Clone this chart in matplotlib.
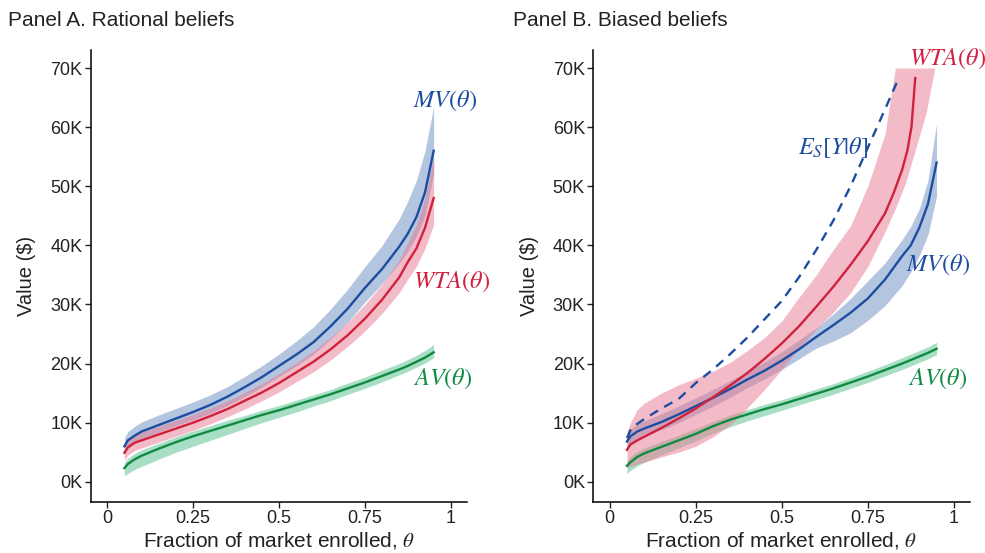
import numpy as np
import matplotlib.pyplot as plt

plt.rcParams['font.family'] = ['Liberation Sans', 'DejaVu Sans']
plt.rcParams['mathtext.fontset'] = 'stix'

# Values in thousands of dollars
theta = [0.05, 0.06, 0.08, 0.10, 0.15, 0.20, 0.25, 0.30, 0.35, 0.40, 0.45, 0.50,
         0.55, 0.60, 0.65, 0.70, 0.75, 0.80, 0.85, 0.875, 0.90, 0.925, 0.95]

# Panel A
a_mv = [6.0, 7.0, 7.8, 8.5, 9.6, 10.7, 11.8, 13.0, 14.4, 16.0, 17.7, 19.6,
        21.5, 23.6, 26.3, 29.3, 32.8, 36.0, 39.8, 42.0, 44.8, 49.0, 56.0]
a_mv_hi = [7.3, 8.5, 9.4, 10.1, 11.3, 12.4, 13.5, 14.7, 16.1, 17.8, 19.6, 21.6,
           23.8, 26.2, 29.2, 32.6, 36.4, 40.0, 44.5, 47.5, 51.0, 56.0, 63.5]
a_mv_lo = [4.8, 5.8, 6.6, 7.3, 8.4, 9.5, 10.5, 11.6, 12.9, 14.4, 16.0, 17.8,
           19.6, 21.6, 24.1, 27.0, 30.4, 33.5, 37.0, 39.0, 41.5, 45.0, 52.0]
a_wta = [4.9, 5.8, 6.6, 7.0, 8.0, 9.0, 10.0, 11.1, 12.3, 13.7, 15.1, 16.7,
         18.5, 20.3, 22.4, 24.8, 27.6, 30.8, 34.6, 37.2, 39.5, 43.0, 48.0]
a_wta_hi = [6.3, 7.2, 8.0, 8.4, 9.4, 10.4, 11.4, 12.5, 13.7, 15.1, 16.6, 18.3,
            20.1, 22.1, 24.4, 27.0, 30.0, 33.4, 37.5, 40.5, 43.5, 48.0, 55.0]
a_wta_lo = [3.6, 4.5, 5.3, 5.7, 6.7, 7.7, 8.7, 9.8, 11.0, 12.3, 13.7, 15.2,
            16.9, 18.6, 20.6, 22.9, 25.5, 28.5, 32.0, 34.3, 36.5, 39.5, 43.5]
a_av = [2.3, 3.0, 3.8, 4.4, 5.6, 6.7, 7.7, 8.6, 9.5, 10.4, 11.3, 12.1,
        13.0, 13.9, 14.8, 15.8, 16.8, 17.9, 19.0, 19.6, 20.3, 21.0, 21.9]
a_av_hi = [3.2, 4.0, 4.8, 5.4, 6.5, 7.6, 8.6, 9.5, 10.4, 11.2, 12.1, 12.9,
           13.8, 14.7, 15.6, 16.7, 17.7, 18.9, 20.0, 20.7, 21.4, 22.2, 23.2]
a_av_lo = [1.0, 1.4, 2.1, 2.6, 3.8, 5.0, 6.0, 7.0, 8.0, 9.0, 10.0, 10.9,
           11.8, 12.8, 13.7, 14.8, 15.8, 16.9, 18.1, 18.7, 19.4, 20.1, 21.0]

# Panel B
b_mv = [6.8, 7.7, 8.5, 9.0, 10.1, 11.4, 12.8, 14.2, 15.7, 17.3, 18.8, 20.5,
        22.4, 24.5, 26.5, 28.6, 31.0, 34.2, 38.2, 40.0, 43.0, 47.0, 54.0]
b_mv_hi = [7.8, 8.9, 9.8, 10.3, 11.5, 12.8, 14.2, 15.6, 17.1, 18.7, 20.3, 22.0,
           24.0, 26.0, 28.4, 31.0, 34.0, 37.0, 41.0, 43.2, 46.2, 51.0, 60.6]
b_mv_lo = [5.6, 6.4, 7.2, 7.7, 8.8, 10.0, 11.4, 12.8, 14.3, 15.9, 17.4, 19.0,
           20.8, 22.6, 23.8, 25.2, 27.3, 29.8, 33.2, 35.5, 38.3, 41.8, 48.3]
b_av = [2.7, 3.3, 4.2, 4.8, 5.9, 7.0, 8.1, 9.4, 10.5, 11.4, 12.3, 13.1,
        14.0, 14.9, 15.8, 16.8, 17.8, 18.9, 20.0, 20.6, 21.2, 21.8, 22.5]
b_av_hi = [3.6, 4.3, 5.1, 5.7, 6.8, 7.9, 9.0, 10.2, 11.3, 12.2, 13.1, 13.9,
           14.8, 15.7, 16.6, 17.6, 18.7, 19.8, 21.0, 21.6, 22.2, 22.8, 23.6]
b_av_lo = [1.4, 1.9, 2.7, 3.3, 4.5, 5.7, 6.9, 8.2, 9.3, 10.3, 11.2, 12.1,
           13.0, 13.9, 14.8, 15.8, 16.8, 17.9, 19.0, 19.6, 20.2, 20.8, 21.5]

theta_wta_b = [0.05, 0.06, 0.08, 0.10, 0.15, 0.20, 0.25, 0.30, 0.35, 0.40, 0.45, 0.50,
               0.55, 0.60, 0.65, 0.70, 0.75, 0.80, 0.825, 0.85, 0.865, 0.877, 0.888]
b_wta = [5.4, 6.3, 7.0, 7.6, 9.1, 10.7, 12.4, 14.3, 16.3, 18.4, 20.8, 23.4,
         26.3, 29.6, 33.0, 36.7, 40.7, 45.4, 48.8, 52.8, 56.0, 60.0, 68.3]

theta_band_b = [0.05, 0.06, 0.08, 0.10, 0.15, 0.20, 0.25, 0.30, 0.35, 0.40, 0.45, 0.50,
                0.55, 0.60, 0.65, 0.70, 0.75, 0.80, 0.83, 0.86, 0.89, 0.92, 0.945]
b_wta_hi = [8.5, 10.0, 12.2, 13.3, 15.0, 16.4, 17.5, 18.7, 20.2, 22.2, 24.4, 27.2,
            31.2, 35.0, 39.3, 43.3, 50.0, 58.8, 70.0, 70.0, 70.0, 70.0, 70.0]
b_wta_lo = [2.4, 2.6, 3.0, 3.3, 4.2, 5.0, 6.0, 7.6, 9.6, 12.5, 15.6, 19.0,
            22.7, 25.8, 28.7, 32.0, 36.4, 42.3, 46.2, 50.6, 56.5, 62.5, 70.0]

theta_es = [0.05, 0.06, 0.08, 0.10, 0.15, 0.20, 0.25, 0.30, 0.35, 0.40, 0.45, 0.50,
            0.55, 0.60, 0.65, 0.70, 0.75, 0.80, 0.84]
b_es = [7.4, 8.7, 9.8, 10.6, 12.4, 14.0, 16.7, 19.0, 21.6, 24.4, 27.5, 30.6,
        34.6, 39.2, 44.2, 50.0, 56.5, 63.0, 68.3]

x_ticks = [0, 0.25, 0.5, 0.75, 1]
x_labels = ['0', '0.25', '0.5', '0.75', '1']
y_ticks = [0, 10, 20, 30, 40, 50, 60, 70]
y_labels = ['0K', '10K', '20K', '30K', '40K', '50K', '60K', '70K']

BLUE, BLUE_BAND = '#1c4da1', '#6b8dc1'
RED, RED_BAND = '#d0213d', '#e97991'
GREEN, GREEN_BAND = '#108a43', '#53c18b'
TXT = '#222222'
LW = 1.7

fig = plt.figure(figsize=(9.85, 5.53), dpi=100)
ax1 = fig.add_axes([0.0921, 0.0922, 0.3820, 0.8174])
ax2 = fig.add_axes([0.6023, 0.0922, 0.3824, 0.8174])


def style_axis(ax):
    ax.set_xlim(-0.048, 1.047)
    ax.set_ylim(-3.43, 73.05)
    ax.spines['top'].set_visible(False)
    ax.spines['right'].set_visible(False)
    ax.spines['left'].set_linewidth(1.1)
    ax.spines['bottom'].set_linewidth(1.1)
    ax.set_xticks(x_ticks)
    ax.set_xticklabels(x_labels)
    ax.set_yticks(y_ticks)
    ax.set_yticklabels(y_labels)
    ax.tick_params(direction='out', length=4, width=1, labelsize=13,
                   colors=TXT, pad=2)
    ax.set_xlabel(r'Fraction of market enrolled, $\theta$', fontsize=15,
                  color=TXT, labelpad=2)
    ax.set_ylabel(r'Value (\$)', fontsize=14.5, color=TXT, labelpad=10)


# Panel A
ax1.fill_between(theta, a_mv_lo, a_mv_hi, color=BLUE_BAND, alpha=0.5, lw=0)
ax1.plot(theta, a_mv, color=BLUE, lw=LW)
ax1.fill_between(theta, a_av_lo, a_av_hi, color=GREEN_BAND, alpha=0.5, lw=0)
ax1.plot(theta, a_av, color=GREEN, lw=LW)
ax1.fill_between(theta, a_wta_lo, a_wta_hi, color=RED_BAND, alpha=0.5, lw=0)
ax1.plot(theta, a_wta, color=RED, lw=LW)

ax1.text(0.983, 64.5, r'$MV(\theta)$', color=BLUE, fontsize=17.5, ha='center', va='center')
ax1.text(1.003, 33.8, r'$WTA(\theta)$', color=RED, fontsize=17.5, ha='center', va='center', clip_on=False)
ax1.text(0.976, 17.4, r'$AV(\theta)$', color=GREEN, fontsize=17.5, ha='center', va='center')
style_axis(ax1)

# Panel B
ax2.fill_between(theta, b_mv_lo, b_mv_hi, color=BLUE_BAND, alpha=0.5, lw=0)
ax2.plot(theta, b_mv, color=BLUE, lw=LW)
ax2.fill_between(theta, b_av_lo, b_av_hi, color=GREEN_BAND, alpha=0.5, lw=0)
ax2.plot(theta, b_av, color=GREEN, lw=LW)
ax2.plot(theta_es, b_es, color=BLUE, lw=LW, ls=(0, (4, 3)))
ax2.fill_between(theta_band_b, b_wta_lo, b_wta_hi, color=RED_BAND, alpha=0.5, lw=0)
ax2.plot(theta_wta_b, b_wta, color=RED, lw=LW)

ax2.text(0.983, 71.5, r'$WTA(\theta)$', color=RED, fontsize=17.5, ha='center', va='center', clip_on=False)
ax2.text(0.649, 56.6, r'$E_S[Y|\theta]$', color=BLUE, fontsize=17.5, ha='center', va='center')
ax2.text(0.955, 36.7, r'$MV(\theta)$', color=BLUE, fontsize=17.5, ha='center', va='center')
ax2.text(0.955, 17.4, r'$AV(\theta)$', color=GREEN, fontsize=17.5, ha='center', va='center')
style_axis(ax2)

fig.text(8 / 985, 1 - 20 / 553, 'Panel A. Rational beliefs', fontsize=15,
         color=TXT, ha='left', va='center')
fig.text(513 / 985, 1 - 20 / 553, 'Panel B. Biased beliefs', fontsize=15,
         color=TXT, ha='left', va='center')

fig.savefig('out.png', dpi=100)
